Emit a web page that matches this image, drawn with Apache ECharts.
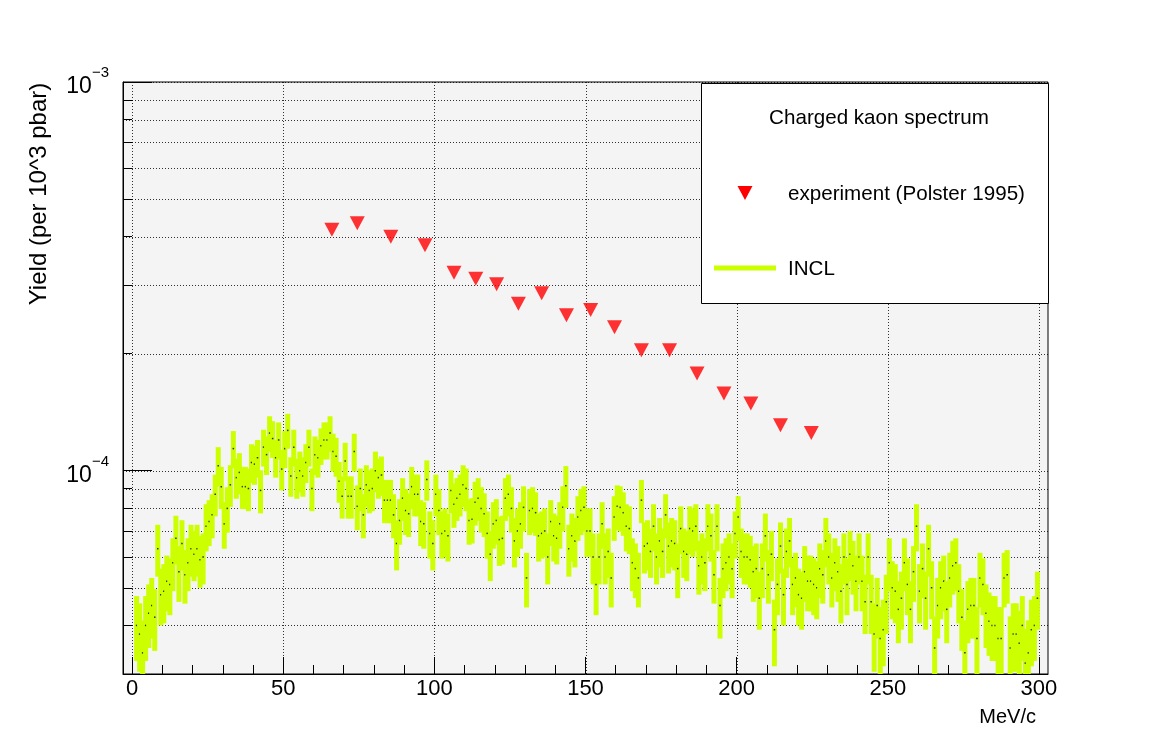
<!DOCTYPE html>
<html><head><meta charset="utf-8">
<script src="https://cdn.jsdelivr.net/npm/echarts@6/dist/echarts.min.js"></script>
<style>html,body{margin:0;padding:0;background:#ffffff}#c{width:1156px;height:740px}</style>
</head><body><div id="c"></div>
<script>
// INCL histogram: 1 MeV/c bins from 0 to 300 (bin i covers [i, i+1])
const inclYield = [
null,4.0e-5,3.8e-5,3.4e-5,4.0e-5,4.3e-5,4.5e-5,4.2e-5,6.3e-5,4.8e-5,
4.9e-5,5.2e-5,5.1e-5,5.8e-5,6.7e-5,5.5e-5,6.5e-5,5.4e-5,5.8e-5,6.3e-5,
6.1e-5,6.3e-5,5.9e-5,6.0e-5,7.2e-5,7.4e-5,7.7e-5,8.7e-5,1.03e-4,9.1e-5,
7.3e-5,8.0e-5,9.2e-5,1.14e-4,9.6e-5,9.9e-5,9.1e-5,9.1e-5,9.0e-5,1.05e-4,
1.04e-4,1.08e-4,8.9e-5,1.15e-4,1.10e-4,1.25e-4,1.21e-4,1.08e-4,1.20e-4,1.01e-4,
1.14e-4,1.27e-4,9.7e-5,1.15e-4,9.6e-5,1.00e-4,9.7e-5,1.05e-4,1.15e-4,9.0e-5,
1.10e-4,1.08e-4,1.16e-4,1.20e-4,1.20e-4,1.25e-4,1.12e-4,1.09e-4,9.4e-5,8.6e-5,
1.06e-4,8.6e-5,8.6e-5,1.12e-4,8.1e-5,9.0e-5,7.7e-5,9.2e-5,8.9e-5,9.0e-5,
1.00e-4,9.6e-5,9.75e-5,8.4e-5,8.4e-5,8.4e-5,7.7e-5,6.5e-5,7.45e-5,8.5e-5,
7.9e-5,7.75e-5,9.1e-5,8.7e-5,8.7e-5,7.4e-5,7.3e-5,9.5e-5,6.9e-5,6.5e-5,
8.7e-5,7.9e-5,6.9e-5,7.0e-5,6.8e-5,8.9e-5,8.2e-5,8.5e-5,8.7e-5,9.2e-5,
9.0e-5,7.45e-5,7.5e-5,8.3e-5,8.5e-5,8.0e-5,7.75e-5,6.9e-5,6.1e-5,7.3e-5,
7.45e-5,6.65e-5,6.7e-5,8.5e-5,8.7e-5,8.0e-5,6.6e-5,7.0e-5,7.3e-5,8.05e-5,
5.3e-5,7.9e-5,8.0e-5,7.8e-5,6.8e-5,6.9e-5,7.0e-5,6.0e-5,7.4e-5,6.8e-5,
6.7e-5,7.3e-5,8.05e-5,9.15e-5,6.3e-5,6.8e-5,6.6e-5,7.6e-5,7.9e-5,8.05e-5,
7.0e-5,7.0e-5,6.0e-5,5.1e-5,6.0e-5,7.3e-5,6.0e-5,6.2e-5,5.3e-5,7.6e-5,
8.1e-5,8.05e-5,7.8e-5,7.2e-5,7.1e-5,5.8e-5,5.6e-5,5.3e-5,8.4e-5,6.4e-5,
6.5e-5,6.2e-5,7.2e-5,6.0e-5,6.6e-5,6.2e-5,7.7e-5,6.4e-5,6.6e-5,6.5e-5,
5.6e-5,7.1e-5,6.2e-5,6.1e-5,7.1e-5,7.0e-5,7.2e-5,5.7e-5,6.0e-5,5.8e-5,
7.2e-5,6.8e-5,5.4e-5,7.2e-5,4.5e-5,5.6e-5,5.8e-5,6.0e-5,5.6e-5,6.9e-5,
7.6e-5,6.2e-5,6.0e-5,6.0e-5,5.9e-5,5.5e-5,5.6e-5,4.7e-5,5.6e-5,6.8e-5,
5.4e-5,6.1e-5,3.9e-5,5.1e-5,6.4e-5,4.8e-5,6.2e-5,6.6e-5,5.1e-5,5.3e-5,
4.8e-5,4.7e-5,5.5e-5,5.2e-5,5.2e-5,5.1e-5,5.0e-5,5.6e-5,5.4e-5,6.6e-5,
6.0e-5,5.3e-5,5.8e-5,5.5e-5,4.9e-5,6.0e-5,5.1e-5,6.1e-5,5.7e-5,5.2e-5,
6.0e-5,5.2e-5,4.6e-5,6.0e-5,4.6e-5,3.8e-5,4.5e-5,3.7e-5,3.9e-5,4.6e-5,
5.8e-5,5.0e-5,4.9e-5,4.4e-5,4.7e-5,5.8e-5,5.1e-5,4.4e-5,5.5e-5,7.2e-5,
4.9e-5,5.6e-5,4.7e-5,6.3e-5,5.0e-5,3.5e-5,4.5e-5,5.0e-5,5.2e-5,4.4e-5,
5.3e-5,5.7e-5,5.8e-5,4.9e-5,4.2e-5,3.4e-5,4.4e-5,4.5e-5,4.5e-5,3.7e-5,
5.3e-5,5.1e-5,4.3e-5,4.1e-5,4.0e-5,4.0e-5,3.7e-5,3.7e-5,5.3e-5,5.4e-5,
3.5e-5,3.8e-5,3.8e-5,3.6e-5,4.0e-5,3.2e-5,3.4e-5,3.9e-5,4.0e-5,4.7e-5
];
const inclError = [
null,7.6e-6,7.6e-6,7.2e-6,7.6e-6,8.0e-6,8.0e-6,7.6e-6,9.6e-6,8.0e-6,
8.5e-6,8.5e-6,8.5e-6,9.0e-6,9.6e-6,9.0e-6,9.6e-6,8.5e-6,9.0e-6,9.6e-6,
9.0e-6,9.6e-6,9.0e-6,9.0e-6,1.0e-5,1.0e-5,1.0e-5,1.07e-5,1.2e-5,1.13e-5,
1.0e-5,1.07e-5,1.13e-5,1.25e-5,1.13e-5,1.2e-5,1.13e-5,1.13e-5,1.13e-5,1.2e-5,
1.2e-5,1.2e-5,1.13e-5,1.25e-5,1.25e-5,1.31e-5,1.31e-5,1.2e-5,1.31e-5,1.2e-5,
1.25e-5,1.31e-5,1.13e-5,1.25e-5,1.13e-5,1.2e-5,1.13e-5,1.2e-5,1.25e-5,1.13e-5,
1.25e-5,1.2e-5,1.25e-5,1.31e-5,1.31e-5,1.31e-5,1.25e-5,1.25e-5,1.13e-5,1.07e-5,
1.2e-5,1.07e-5,1.07e-5,1.25e-5,1.07e-5,1.13e-5,1.0e-5,1.13e-5,1.13e-5,1.13e-5,
1.2e-5,1.13e-5,1.13e-5,1.07e-5,1.07e-5,1.07e-5,1.0e-5,9.6e-6,1.0e-5,1.07e-5,
1.07e-5,1.0e-5,1.13e-5,1.07e-5,1.07e-5,1.0e-5,1.0e-5,1.13e-5,9.6e-6,9.6e-6,
1.07e-5,1.07e-5,9.6e-6,1.0e-5,9.6e-6,1.13e-5,1.07e-5,1.07e-5,1.07e-5,1.13e-5,
1.13e-5,1.0e-5,1.0e-5,1.07e-5,1.07e-5,1.07e-5,1.0e-5,9.6e-6,9.0e-6,1.0e-5,
1.0e-5,9.6e-6,9.6e-6,1.07e-5,1.07e-5,1.07e-5,9.6e-6,1.0e-5,1.0e-5,1.07e-5,
8.5e-6,1.07e-5,1.07e-5,1.0e-5,9.6e-6,9.6e-6,1.0e-5,9.0e-6,1.0e-5,9.6e-6,
9.6e-6,1.0e-5,1.07e-5,1.13e-5,9.6e-6,9.6e-6,9.6e-6,1.0e-5,1.07e-5,1.07e-5,
1.0e-5,1.0e-5,9.0e-6,8.5e-6,9.0e-6,1.0e-5,9.0e-6,9.0e-6,8.5e-6,1.0e-5,
1.07e-5,1.07e-5,1.0e-5,1.0e-5,1.0e-5,9.0e-6,9.0e-6,8.5e-6,1.07e-5,9.6e-6,
9.6e-6,9.0e-6,1.0e-5,9.0e-6,9.6e-6,9.0e-6,1.0e-5,9.6e-6,9.6e-6,9.6e-6,
9.0e-6,1.0e-5,9.0e-6,9.0e-6,1.0e-5,1.0e-5,1.0e-5,9.0e-6,9.0e-6,9.0e-6,
1.0e-5,9.6e-6,8.5e-6,1.0e-5,8.0e-6,9.0e-6,9.0e-6,9.0e-6,9.0e-6,9.6e-6,
1.0e-5,9.0e-6,9.0e-6,9.0e-6,9.0e-6,9.0e-6,9.0e-6,8.0e-6,9.0e-6,9.6e-6,
8.5e-6,9.0e-6,7.6e-6,8.5e-6,9.6e-6,8.0e-6,9.0e-6,9.6e-6,8.5e-6,8.5e-6,
8.0e-6,8.0e-6,9.0e-6,8.5e-6,8.5e-6,8.5e-6,8.5e-6,9.0e-6,8.5e-6,9.6e-6,
9.0e-6,8.5e-6,9.0e-6,9.0e-6,8.5e-6,9.0e-6,8.5e-6,9.0e-6,9.0e-6,8.5e-6,
9.0e-6,8.5e-6,8.0e-6,9.0e-6,8.0e-6,7.6e-6,8.0e-6,7.6e-6,7.6e-6,8.0e-6,
9.0e-6,8.5e-6,8.5e-6,8.0e-6,8.0e-6,9.0e-6,8.5e-6,8.0e-6,9.0e-6,1.0e-5,
8.5e-6,9.0e-6,8.0e-6,9.6e-6,8.5e-6,7.2e-6,8.0e-6,8.5e-6,8.5e-6,8.0e-6,
8.5e-6,9.0e-6,9.0e-6,8.5e-6,7.6e-6,7.2e-6,8.0e-6,8.0e-6,8.0e-6,7.6e-6,
8.5e-6,8.5e-6,8.0e-6,7.6e-6,7.6e-6,7.6e-6,7.6e-6,7.6e-6,8.5e-6,8.5e-6,
7.2e-6,7.6e-6,7.6e-6,7.6e-6,7.6e-6,7.2e-6,7.2e-6,7.6e-6,7.6e-6,8.0e-6
];
// Experiment (Polster 1995)
const expMomentum = [66.1,74.5,85.6,96.9,106.5,113.7,120.6,127.8,135.5,143.7,151.7,159.6,168.5,177.8,186.9,195.8,204.7,214.5,224.7];
const expYield = [4.17e-4,4.33e-4,4.0e-4,3.80e-4,3.23e-4,3.12e-4,3.02e-4,2.69e-4,2.86e-4,2.51e-4,2.59e-4,2.34e-4,2.04e-4,2.04e-4,1.78e-4,1.58e-4,1.49e-4,1.31e-4,1.25e-4];
// axis ticks
const xMajorTicks = [0,50,100,150,200,250,300];
const xMinorTicks = [10,20,30,40,60,70,80,90,110,120,130,140,160,170,180,190,210,220,230,240,260,270,280,290];
const yMajorTicks = [1e-4,1e-3];
const yMinorTicks = [4e-5,5e-5,6e-5,7e-5,8e-5,9e-5,2e-4,3e-4,4e-4,5e-4,6e-4,7e-4,8e-4,9e-4];

const FONT = '"Liberation Sans", Arial, Helvetica, sans-serif';
const GREEN = '#ccff00';

const histData = inclYield.map((v, i) =>
  v == null ? [i + 0.5, '-', '-', '-'] : [i + 0.5, v, v - inclError[i], v + inclError[i]]);
const expData = expMomentum.map((x, i) => [x, expYield[i]]);
const hGridData = yMinorTicks.concat(yMajorTicks).map(v => [0, v]);
const vGridData = xMajorTicks.map(v => [v, 1e-4]);

const chart = echarts.init(document.getElementById('c'), null, {renderer: 'canvas'});

chart.setOption({
  animation: false,
  backgroundColor: '#ffffff',
  textStyle: {fontFamily: FONT},
  grid: {left: 123, right: 108, top: 82, bottom: 66, show: true,
         backgroundColor: '#f4f4f4', borderColor: '#000', borderWidth: 1},
  xAxis: [
    {type: 'value', min: -3, max: 303, position: 'bottom',
     axisLine: {show: true, onZero: false, lineStyle: {color: '#000', width: 1}},
     axisTick: {show: true, inside: true, length: 17, customValues: xMajorTicks, lineStyle: {color: '#000'}},
     axisLabel: {customValues: xMajorTicks, fontSize: 22, color: '#000', margin: 4, fontFamily: FONT},
     splitLine: {show: false}},
    {type: 'value', min: -3, max: 303, position: 'bottom',
     axisLine: {show: false, onZero: false},
     axisTick: {show: true, inside: true, length: 9, customValues: xMinorTicks, lineStyle: {color: '#000'}},
     axisLabel: {show: false}, splitLine: {show: false}}
  ],
  yAxis: [
    {type: 'log', logBase: 10, min: 3e-5, max: 1e-3, position: 'left',
     axisLine: {show: true, onZero: false, lineStyle: {color: '#000', width: 1}},
     axisTick: {show: true, inside: true, length: 29, customValues: yMajorTicks, lineStyle: {color: '#000'}},
     axisLabel: {customValues: yMajorTicks, margin: 14, color: '#000',
       formatter: function (v) {
         const e = Math.round(Math.log10(v));
         return '{b|10}{s|' + (e < 0 ? '\u2212' : '') + Math.abs(e) + '}';
       },
       rich: {
         b: {fontSize: 23, fontFamily: FONT, color: '#000', padding: [10, 0, 0, 0]},
         s: {fontSize: 15, fontFamily: FONT, color: '#000', verticalAlign: 'top'}
       }},
     splitLine: {show: false}},
    {type: 'log', logBase: 10, min: 3e-5, max: 1e-3, position: 'left',
     axisLine: {show: false, onZero: false},
     axisTick: {show: true, inside: true, length: 9, customValues: yMinorTicks, lineStyle: {color: '#000'}},
     axisLabel: {show: false}, splitLine: {show: false}}
  ],
  series: [
    {type: 'custom', name: 'hgrid', data: hGridData, xAxisIndex: 0, yAxisIndex: 0, silent: true, z: 1, clip: false,
     renderItem: function (params, api) {
       const cs = params.coordSys;
       const y = Math.round(api.coord([0, api.value(1)])[1]) + 0.5;
       return {type: 'line', shape: {x1: cs.x, y1: y, x2: cs.x + cs.width, y2: y},
               style: {stroke: '#000', lineWidth: 1, lineDash: [1, 2], opacity: 0.8}};
     }},
    {type: 'custom', name: 'vgrid', data: vGridData, xAxisIndex: 0, yAxisIndex: 0, silent: true, z: 1, clip: false,
     renderItem: function (params, api) {
       const cs = params.coordSys;
       const x = Math.round(api.coord([api.value(0), 1e-4])[0]) + 0.5;
       return {type: 'line', shape: {x1: x, y1: cs.y, x2: x, y2: cs.y + cs.height},
               style: {stroke: '#000', lineWidth: 1, lineDash: [1, 2], opacity: 0.8}};
     }},
    {type: 'custom', name: 'INCL', data: histData, xAxisIndex: 0, yAxisIndex: 0, clip: true, z: 3,
     encode: {x: 0, y: [1, 2, 3]},
     renderItem: function (params, api) {
       const y = api.value(1);
       if (isNaN(y)) return null;
       const x = api.value(0);
       const top = api.coord([x, api.value(3)]);
       const bot = api.coord([x, api.value(2)]);
       const mid = api.coord([x, y]);
       return {type: 'group', children: [
         {type: 'rect', shape: {x: top[0] - 2.5, y: top[1], width: 5, height: bot[1] - top[1]},
          style: {fill: GREEN}},
         {type: 'rect', shape: {x: mid[0] - 0.75, y: mid[1] - 0.75, width: 1.5, height: 1.5},
          style: {fill: '#333'}}
       ]};
     }},
    {type: 'scatter', name: 'experiment (Polster 1995)', data: expData, xAxisIndex: 0, yAxisIndex: 0, z: 4,
     symbol: 'triangle', symbolRotate: 180, symbolSize: [15, 14],
     itemStyle: {color: '#ff0000'}}
  ],
  graphic: [
    {type: 'rect', z: 100, shape: {x: 701.5, y: 83.5, width: 347, height: 220},
     style: {fill: '#ffffff', stroke: '#000', lineWidth: 1}},
    {type: 'text', z: 101, x: 879, y: 118,
     style: {text: 'Charged kaon spectrum', fontSize: 20.6, fontFamily: FONT, fill: '#000', align: 'center', verticalAlign: 'middle'}},
    {type: 'polygon', z: 101, shape: {points: [[737.5, 186], [752.5, 186], [745, 200]]}, style: {fill: '#ff0000'}},
    {type: 'text', z: 101, x: 788, y: 194,
     style: {text: 'experiment (Polster 1995)', fontSize: 20.6, fontFamily: FONT, fill: '#000', align: 'left', verticalAlign: 'middle'}},
    {type: 'line', z: 101, shape: {x1: 714, y1: 268, x2: 776, y2: 268}, style: {stroke: GREEN, lineWidth: 5}},
    {type: 'text', z: 101, x: 788, y: 269,
     style: {text: 'INCL', fontSize: 20.6, fontFamily: FONT, fill: '#000', align: 'left', verticalAlign: 'middle'}},
    {type: 'text', z: 101, x: 39, y: 194, rotation: Math.PI / 2,
     style: {text: 'Yield (per 10^3 pbar)', fontSize: 24, fontFamily: FONT, fill: '#000', align: 'center', verticalAlign: 'middle'}},
    {type: 'text', z: 101, x: 1036, y: 717,
     style: {text: 'MeV/c', fontSize: 20, fontFamily: FONT, fill: '#000', align: 'right', verticalAlign: 'middle'}}
  ]
});
</script></body></html>
